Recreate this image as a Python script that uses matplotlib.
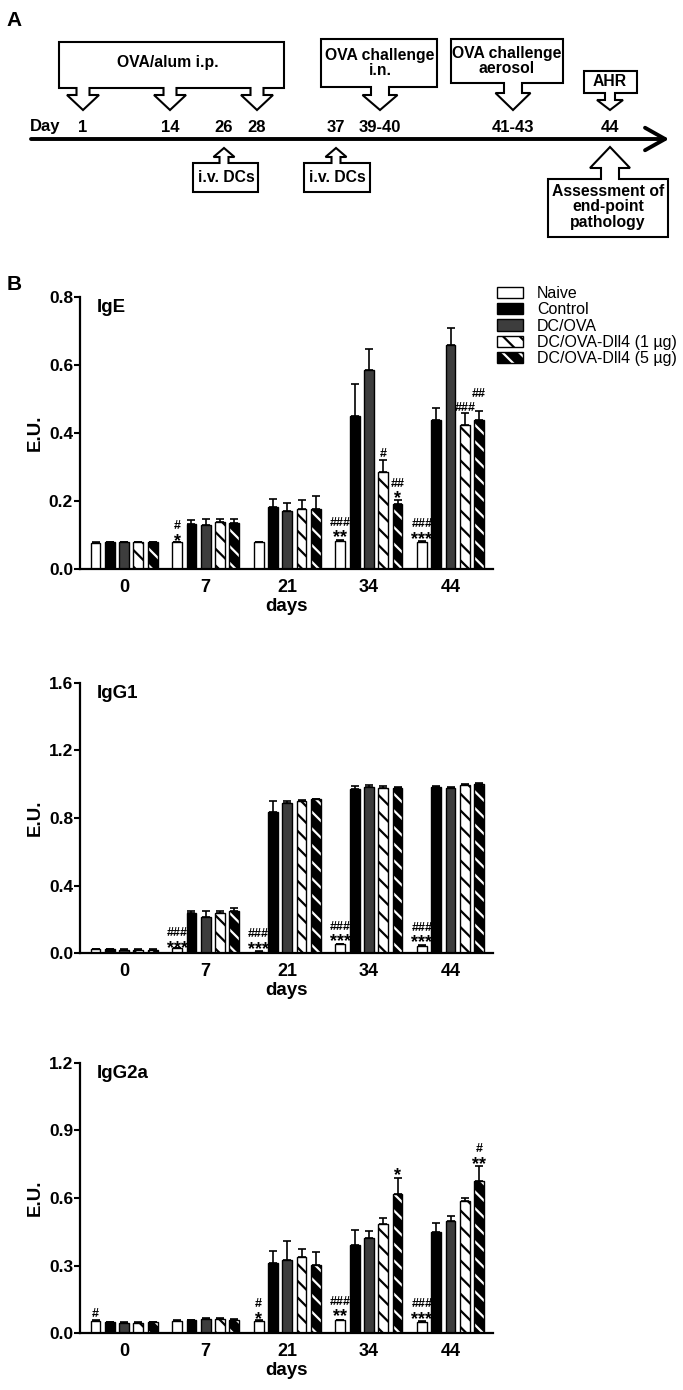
import numpy as np
import matplotlib
matplotlib.use("Agg")
import matplotlib.pyplot as plt
from matplotlib.patches import Polygon
from matplotlib.transforms import offset_copy

plt.rcParams['font.family'] = ['Liberation Sans', 'DejaVu Sans']
plt.rcParams['hatch.linewidth'] = 1.6

# ---------------- data ----------------
days = ['0', '7', '21', '34', '44']
groups = ['Naive', 'Control', 'DC/OVA', 'DC/OVA-Dll4 (1 µg)', 'DC/OVA-Dll4 (5 µg)']

ige_mean = [
    [0.078, 0.080, 0.080, 0.083, 0.081],
    [0.080, 0.133, 0.183, 0.451, 0.439],
    [0.080, 0.131, 0.172, 0.586, 0.658],
    [0.080, 0.138, 0.176, 0.285, 0.423],
    [0.079, 0.137, 0.177, 0.192, 0.439],
]
ige_sem = [
    [0.001, 0.001, 0.001, 0.002, 0.001],
    [0.001, 0.012, 0.024, 0.092, 0.035],
    [0.001, 0.016, 0.024, 0.060, 0.051],
    [0.001, 0.009, 0.026, 0.036, 0.037],
    [0.001, 0.012, 0.039, 0.011, 0.027],
]
igg1_mean = [
    [0.025, 0.030, 0.010, 0.053, 0.045],
    [0.025, 0.240, 0.837, 0.971, 0.983],
    [0.022, 0.213, 0.887, 0.981, 0.979],
    [0.022, 0.240, 0.900, 0.977, 0.995],
    [0.022, 0.250, 0.910, 0.979, 1.001],
]
igg1_sem = [
    [0.002, 0.002, 0.002, 0.002, 0.002],
    [0.002, 0.012, 0.062, 0.020, 0.005],
    [0.002, 0.035, 0.015, 0.014, 0.005],
    [0.002, 0.008, 0.008, 0.014, 0.005],
    [0.002, 0.018, 0.004, 0.004, 0.004],
]
igg2a_mean = [
    [0.055, 0.056, 0.055, 0.059, 0.052],
    [0.050, 0.058, 0.313, 0.390, 0.451],
    [0.046, 0.062, 0.325, 0.421, 0.500],
    [0.047, 0.064, 0.340, 0.485, 0.588],
    [0.050, 0.061, 0.303, 0.618, 0.675],
]
igg2a_sem = [
    [0.002, 0.002, 0.002, 0.002, 0.002],
    [0.002, 0.002, 0.051, 0.070, 0.040],
    [0.002, 0.007, 0.086, 0.034, 0.022],
    [0.002, 0.002, 0.035, 0.026, 0.011],
    [0.002, 0.002, 0.059, 0.072, 0.068],
]
# significance marks: (day index, group index, hashes, stars, y of the lowest symbol)
ige_marks = [(1, 0, '#', '*', 0.100), (3, 0, '###', '**', 0.110),
             (3, 3, '#', '', 0.342), (3, 4, '##', '*', 0.225),
             (4, 0, '###', '***', 0.106), (4, 3, '###', '', 0.479),
             (4, 4, '##', '', 0.518)]
igg1_marks = [(1, 0, '###', '***', 0.065), (2, 0, '###', '***', 0.059),
              (3, 0, '###', '***', 0.102), (4, 0, '###', '***', 0.099)]
igg2a_marks = [(0, 0, '#', '', 0.093), (2, 0, '#', '*', 0.089),
               (3, 0, '###', '**', 0.099), (3, 4, '', '*', 0.724),
               (4, 0, '###', '***', 0.089), (4, 4, '#', '**', 0.776)]

timeline_days = ['1', '14', '26', '28', '37', '39-40', '41-43', '44']

# ---------------- figure ----------------
W, H = 683, 1390
fig = plt.figure(figsize=(W / 100, H / 100), dpi=100)

# ---- Panel A : schematic in pixel coordinates ----
axA = fig.add_axes([0, 1 - 250 / H, 1, 250 / H])
axA.set_xlim(0, W)
axA.set_ylim(250, 0)
axA.axis('off')

day_x = [83, 170, 224, 257, 336, 380, 513, 610]


def callout(box, arrows, up=False):
    x0, y0, x1, y1 = box
    if not up:
        pts = [(x0, y0), (x1, y0), (x1, y1)]
        yb = y1
    else:
        pts = [(x0, y1), (x1, y1), (x1, y0)]
        yb = y0
    for (a, sw, hw, ys, yt) in sorted(arrows, key=lambda t: -t[0]):
        pts += [(a + sw, yb), (a + sw, ys), (a + hw, ys), (a, yt),
                (a - hw, ys), (a - sw, ys), (a - sw, yb)]
    pts.append((x0, yb))
    axA.add_patch(Polygon(pts, closed=True, facecolor='white',
                          edgecolor='black', linewidth=1.5, joinstyle='miter'))


callout((59, 42, 284, 88), [(day_x[0], 6.5, 16, 95, 110),
                            (day_x[1], 6.5, 16, 95, 110),
                            (day_x[3], 6.5, 16, 95, 110)])
callout((321, 39, 437, 87), [(day_x[5], 9, 17.5, 95, 110)])
callout((451, 39, 563, 83), [(day_x[6], 9, 17.5, 93, 110)])
callout((584, 71, 637, 93), [(day_x[7], 5, 13, 100, 110)])
callout((193, 163, 258, 192), [(day_x[2], 4.5, 10.5, 157, 148)], up=True)
callout((304, 163, 370, 192), [(day_x[4], 4.5, 10.5, 157, 148)], up=True)
callout((548, 179, 668, 237), [(day_x[7], 9, 20, 168, 147)], up=True)

bt = dict(ha='center', va='center', fontsize=11.3, fontweight='bold', linespacing=1.05)
axA.text(168, 63, 'OVA/alum i.p.', **bt)
axA.text(380, 63, 'OVA challenge\ni.n.', **bt)
axA.text(507, 61, 'OVA challenge\naerosol', **bt)
axA.text(610, 82, 'AHR', **bt)
axA.text(226, 177, 'i.v. DCs', **bt)
axA.text(337, 177, 'i.v. DCs', **bt)
axA.text(608, 207, 'Assessment of\nend-point\npathology', **bt)

axA.annotate('', xy=(669, 139), xytext=(31, 139),
             arrowprops=dict(arrowstyle='->,head_length=0.8,head_width=0.45',
                             lw=2.8, color='black', shrinkA=0, shrinkB=0,
                             mutation_scale=18))
axA.text(45, 127, 'Day', ha='center', va='center', fontsize=12, fontweight='bold')
for lbl, xx in zip(timeline_days, day_x):
    axA.text(xx, 127, lbl, ha='center', va='center', fontsize=12, fontweight='bold')
axA.text(14, 20, 'A', ha='center', va='center', fontsize=15, fontweight='bold')

fig.text(14 / W, 1 - 285 / H, 'B', ha='center', va='center', fontsize=15, fontweight='bold')

# ---- Panel B ----
styles = [
    dict(fc='white', hc='black', hatch=None),
    dict(fc='black', hc='black', hatch=None),
    dict(fc='#3d3d3d', hc='black', hatch=None),
    dict(fc='white', hc='black', hatch='\\\\'),
    dict(fc='black', hc='white', hatch='\\\\'),
]
offsets = (np.arange(5) - 2) * 0.175
bw = 0.12
FS_S = 13.0   # stars
FS_H = 9.0    # hashes


def panel(rect_px, means, sems, ymax, yticks, ylabels, title, marks, legend=False):
    left, top, right, bottom = rect_px
    wpx, hpx = right - left, bottom - top
    ax = fig.add_axes([left / W, 1 - bottom / H, wpx / W, hpx / H])
    x = np.arange(len(days))
    handles = []
    for j in range(5):
        st = styles[j]
        fill = ax.bar(x + offsets[j], means[j], bw, color=st['fc'], edgecolor=st['hc'],
                      linewidth=0, hatch=st['hatch'], zorder=2)
        edge = ax.bar(x + offsets[j], means[j], bw, fill=False, edgecolor='black',
                      linewidth=1.0, zorder=3)
        ax.errorbar(x + offsets[j], means[j], yerr=[np.zeros(5), sems[j]], fmt='none',
                    ecolor='black', elinewidth=1.2, capsize=3, capthick=1.2, zorder=1.5)
        handles.append((fill, edge))
    for (d, g, hs, ss, yv) in marks:
        xx = x[d] + offsets[g]
        if ss:
            tr = offset_copy(ax.transData, fig=fig, x=0, y=-0.58 * FS_S, units='points')
            ax.text(xx, yv, ss, transform=tr, ha='center', va='baseline',
                    fontsize=FS_S, fontweight='bold', zorder=5)
            if hs:
                tr2 = offset_copy(ax.transData, fig=fig, x=0,
                                  y=0.15 * FS_S + 2.4, units='points')
                ax.text(xx, yv, hs, transform=tr2, ha='center', va='baseline',
                        fontsize=FS_H, fontweight='bold', zorder=5)
        else:
            tr = offset_copy(ax.transData, fig=fig, x=0, y=-0.36 * FS_H, units='points')
            ax.text(xx, yv, hs, transform=tr, ha='center', va='baseline',
                    fontsize=FS_H, fontweight='bold', zorder=5)
    ax.set_xlim(-0.54, 4.52)
    ax.set_ylim(0, ymax)
    ax.set_yticks(yticks)
    ax.set_yticklabels(ylabels, fontsize=12.5, fontweight='bold')
    ax.set_xticks(x)
    ax.set_xticklabels(days, fontsize=13, fontweight='bold')
    ax.tick_params(axis='x', length=0, pad=7)
    ax.tick_params(axis='y', length=4, width=1.5, pad=1)
    for s in ['top', 'right']:
        ax.spines[s].set_visible(False)
    for s in ['left', 'bottom']:
        ax.spines[s].set_linewidth(1.6)
    ax.set_ylabel('E.U.', fontsize=13.5, fontweight='bold')
    ax.yaxis.set_label_coords(-36 / wpx, 0.5)
    ax.set_xlabel('days', fontsize=13.5, fontweight='bold')
    ax.xaxis.set_label_coords(0.5, -29 / hpx)
    ax.text(17 / wpx, 0.96, title, transform=ax.transAxes, ha='left',
            va='center', fontsize=13.5, fontweight='bold')
    if legend:
        fig.legend(handles, groups, loc='upper left',
                   bbox_to_anchor=(497 / W, 1 - 286 / H), frameon=False,
                   fontsize=11.5, handlelength=1.65, handleheight=0.7,
                   handletextpad=0.85, labelspacing=0.08, borderpad=0,
                   borderaxespad=0)
    return ax


panel((80, 296.7, 493, 569.3), ige_mean, ige_sem, 0.8,
      [0, 0.2, 0.4, 0.6, 0.8], ['0.0', '0.2', '0.4', '0.6', '0.8'], 'IgE', ige_marks,
      legend=True)
panel((80, 682.7, 493, 953.3), igg1_mean, igg1_sem, 1.6,
      [0, 0.4, 0.8, 1.2, 1.6], ['0.0', '0.4', '0.8', '1.2', '1.6'], 'IgG1', igg1_marks)
panel((80, 1062.7, 493, 1333.3), igg2a_mean, igg2a_sem, 1.2,
      [0, 0.3, 0.6, 0.9, 1.2], ['0.0', '0.3', '0.6', '0.9', '1.2'], 'IgG2a', igg2a_marks)

fig.savefig('out.png', dpi=100)
